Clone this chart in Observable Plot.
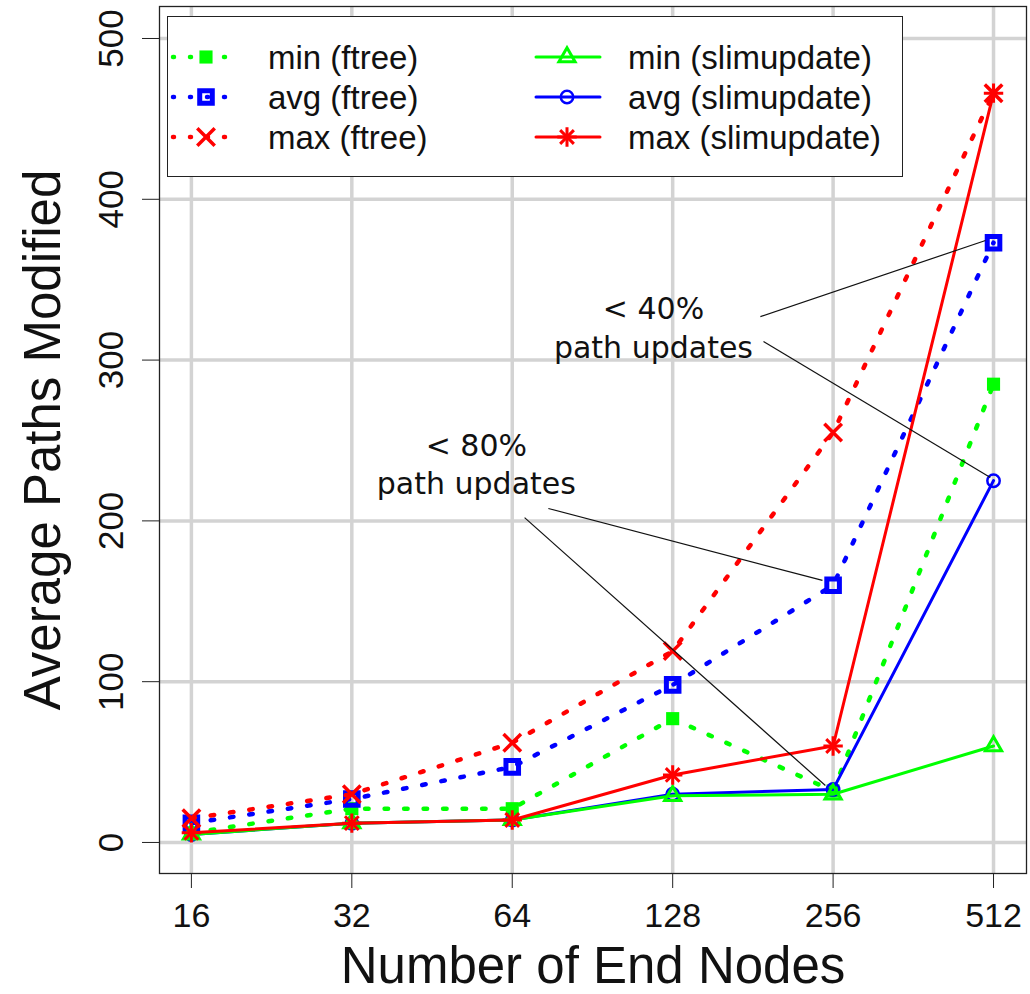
<!DOCTYPE html>
<html><head><meta charset="utf-8">
<script src="https://cdn.jsdelivr.net/npm/d3@7"></script>
<script src="https://cdn.jsdelivr.net/npm/@observablehq/plot@0.6"></script>
<style>
body{margin:0;background:#fff;}
#wrap{position:relative;width:1030px;height:994px;}
#legend{position:absolute;left:167px;top:16px;width:736px;height:161px;box-sizing:border-box;border:1.5px solid #222;background:#fff;}
#legend svg{display:block;}
</style></head><body><div id="wrap"></div>
<script>
// ---- data ----
const nodes = [16, 32, 64, 128, 256, 512];
const minFtree = [6, 21, 21, 77, 32, 285];
const avgFtree = [12, 27, 47, 98, 160, 373];
const maxFtree = [15, 30, 62, 119, 255, 466];
const minSlim = [5, 12, 14, 29, 30, 60];
const avgSlim = [5, 12, 14, 30, 33, 225];
const maxSlim = [6, 12, 14, 42, 60, 466];
const seriesNames = ["min (ftree)", "avg (ftree)", "max (ftree)", "min (slimupdate)", "avg (slimupdate)", "max (slimupdate)"];
const xTicks = [16, 32, 64, 128, 256, 512];
const yTicks = [0, 100, 200, 300, 400, 500];
const annotLabels = ["< 40%\npath updates", "< 80%\npath updates"];
const annotX = [117.8, 54.8];
const annotY = [321, 236];
const leaderX1 = [187, 189.5, 74.8, 67.5];
const leaderY1 = [327, 311.6, 207.7, 202];
const leaderX2 = [494.6, 505, 244.5, 247.6];
const leaderY2 = [374.4, 227, 163, 35.4];

// ---- styles ----
const GREEN = "#00ff00", BLUE = "#0000ff", RED = "#ff0000";
const FONT = "'Liberation Sans', Arial, Helvetica, sans-serif";
const DOT = "3.5,16";
const rows = vals => nodes.map((x, i) => ({x, y: vals[i]}));

const series = [
  {vals: minFtree, color: GREEN, dotted: true, marks: [{symbol: "square", r: 7.4, fill: GREEN, stroke: "none"}]},
  {vals: avgFtree, color: BLUE, dotted: true, marks: [{symbol: "square", r: 7.1, fill: "none", stroke: BLUE, strokeWidth: 5}]},
  {vals: maxFtree, color: RED, dotted: true, marks: [{symbol: "times", r: 8, fill: "none", stroke: RED, strokeWidth: 3.5}]},
  {vals: minSlim, color: GREEN, dotted: false, marks: [{symbol: "triangle", r: 6, fill: "none", stroke: GREEN, strokeWidth: 3}]},
  {vals: avgSlim, color: BLUE, dotted: false, marks: [{symbol: "circle", r: 6.2, fill: "none", stroke: BLUE, strokeWidth: 2.5}]},
  {vals: maxSlim, color: RED, dotted: false, marks: [{symbol: "plus", r: 6.3, fill: "none", stroke: RED, strokeWidth: 3}, {symbol: "times", r: 6.3, fill: "none", stroke: RED, strokeWidth: 3}]}
];
const drawOrder = [0, 1, 2, 4, 3, 5];

const dataMarks = [];
for (const k of drawOrder) {
  const s = series[k];
  const data = rows(s.vals);
  dataMarks.push(Plot.line(data, {x: "x", y: "y", stroke: s.color,
    strokeWidth: s.dotted ? 4.5 : 3, strokeDasharray: s.dotted ? DOT : null,
    strokeLinecap: "round", strokeLinejoin: "round"}));
  for (const m of s.marks) {
    dataMarks.push(Plot.dot(data, {x: "x", y: "y", symbol: () => m.symbol, r: m.r,
      fill: m.fill, stroke: m.stroke, strokeWidth: m.strokeWidth || 1}));
  }
}

const idx4 = d3.range(leaderX1.length);
const chart = Plot.plot({
  width: 1030, height: 994,
  marginLeft: 159, marginRight: 4, marginTop: 6, marginBottom: 121,
  style: {fontFamily: FONT, background: "#fff", color: "#111"},
  x: {type: "log", base: 2, domain: [13.94, 590.4]},
  y: {domain: [-19.3, 519.9]},
  symbol: {type: "identity"},
  marks: [
    Plot.gridX(xTicks, {stroke: "#d3d3d3", strokeOpacity: 1, strokeWidth: 3.5}),
    Plot.gridY(yTicks, {stroke: "#d3d3d3", strokeOpacity: 1, strokeWidth: 3.5}),
    ...dataMarks,
    Plot.link(idx4, {x1: i => leaderX1[i], y1: i => leaderY1[i], x2: i => leaderX2[i], y2: i => leaderY2[i],
      stroke: "#111", strokeWidth: 1.2}),
    Plot.text(d3.range(annotLabels.length), {x: i => annotX[i], y: i => annotY[i], text: i => annotLabels[i],
      fontFamily: "'DejaVu Sans', sans-serif", fontSize: 30, lineHeight: 1.27, fill: "#111",
      textAnchor: "middle", lineAnchor: "middle"}),
    Plot.frame({stroke: "#222", strokeWidth: 1.3}),
    Plot.axisX({ticks: xTicks, tickSize: 15, tickPadding: 14, tickFormat: d => String(d),
      fontSize: 34, label: null, stroke: "#222"}),
    Plot.axisY({ticks: yTicks, tickSize: 17, fill: "none", label: null, stroke: "#222"}),
    Plot.text(yTicks, {y: d => d, text: d => String(d), frameAnchor: "left", dx: -48, rotate: -90,
      fontSize: 35, textAnchor: "middle", lineAnchor: "middle", fill: "#111"}),
    Plot.text(["Number of End Nodes"], {text: d => d, frameAnchor: "bottom", dy: 93,
      fontSize: 51, textAnchor: "middle", lineAnchor: "middle", fill: "#111"}),
    Plot.text(["Average Paths Modified"], {text: d => d, frameAnchor: "left", dx: -116, rotate: -90,
      fontSize: 51, textAnchor: "middle", lineAnchor: "middle", fill: "#111"})
  ]
});
const wrap = document.getElementById("wrap");
wrap.appendChild(chart);

// ---- legend (overlay inside plot, as in the original) ----
const leg = d3.select(wrap).append("div").attr("id", "legend");
const lsvg = leg.append("svg").attr("width", 733).attr("height", 158);
const rowY = [40, 80, 120];
const cols = [{x0: 5, x1: 66, mx: 38, tx: 100}, {x0: 368, x1: 432, mx: 399, tx: 460}];
const symMap = {square: d3.symbolSquare, times: d3.symbolTimes, triangle: d3.symbolTriangle, circle: d3.symbolCircle, plus: d3.symbolPlus};
series.forEach((s, k) => {
  const c = cols[Math.floor(k / 3)], y = rowY[k % 3];
  const g = lsvg.append("g");
  g.append("line").attr("x1", c.x0).attr("x2", c.x1).attr("y1", y).attr("y2", y)
    .attr("stroke", s.color).attr("stroke-width", s.dotted ? 4.5 : 3)
    .attr("stroke-dasharray", s.dotted ? "1,16" : null).attr("stroke-linecap", "round");
  for (const m of s.marks) {
    g.append("path").attr("transform", `translate(${c.mx},${y})`)
      .attr("d", d3.symbol(symMap[m.symbol], Math.PI * m.r * m.r)())
      .attr("fill", m.fill).attr("stroke", m.stroke).attr("stroke-width", m.strokeWidth || 1);
  }
  g.append("text").attr("x", c.tx).attr("y", y).attr("dy", "0.35em")
    .attr("font-family", FONT).attr("font-size", 33).attr("fill", "#111").text(seriesNames[k]);
});
</script></body></html>
